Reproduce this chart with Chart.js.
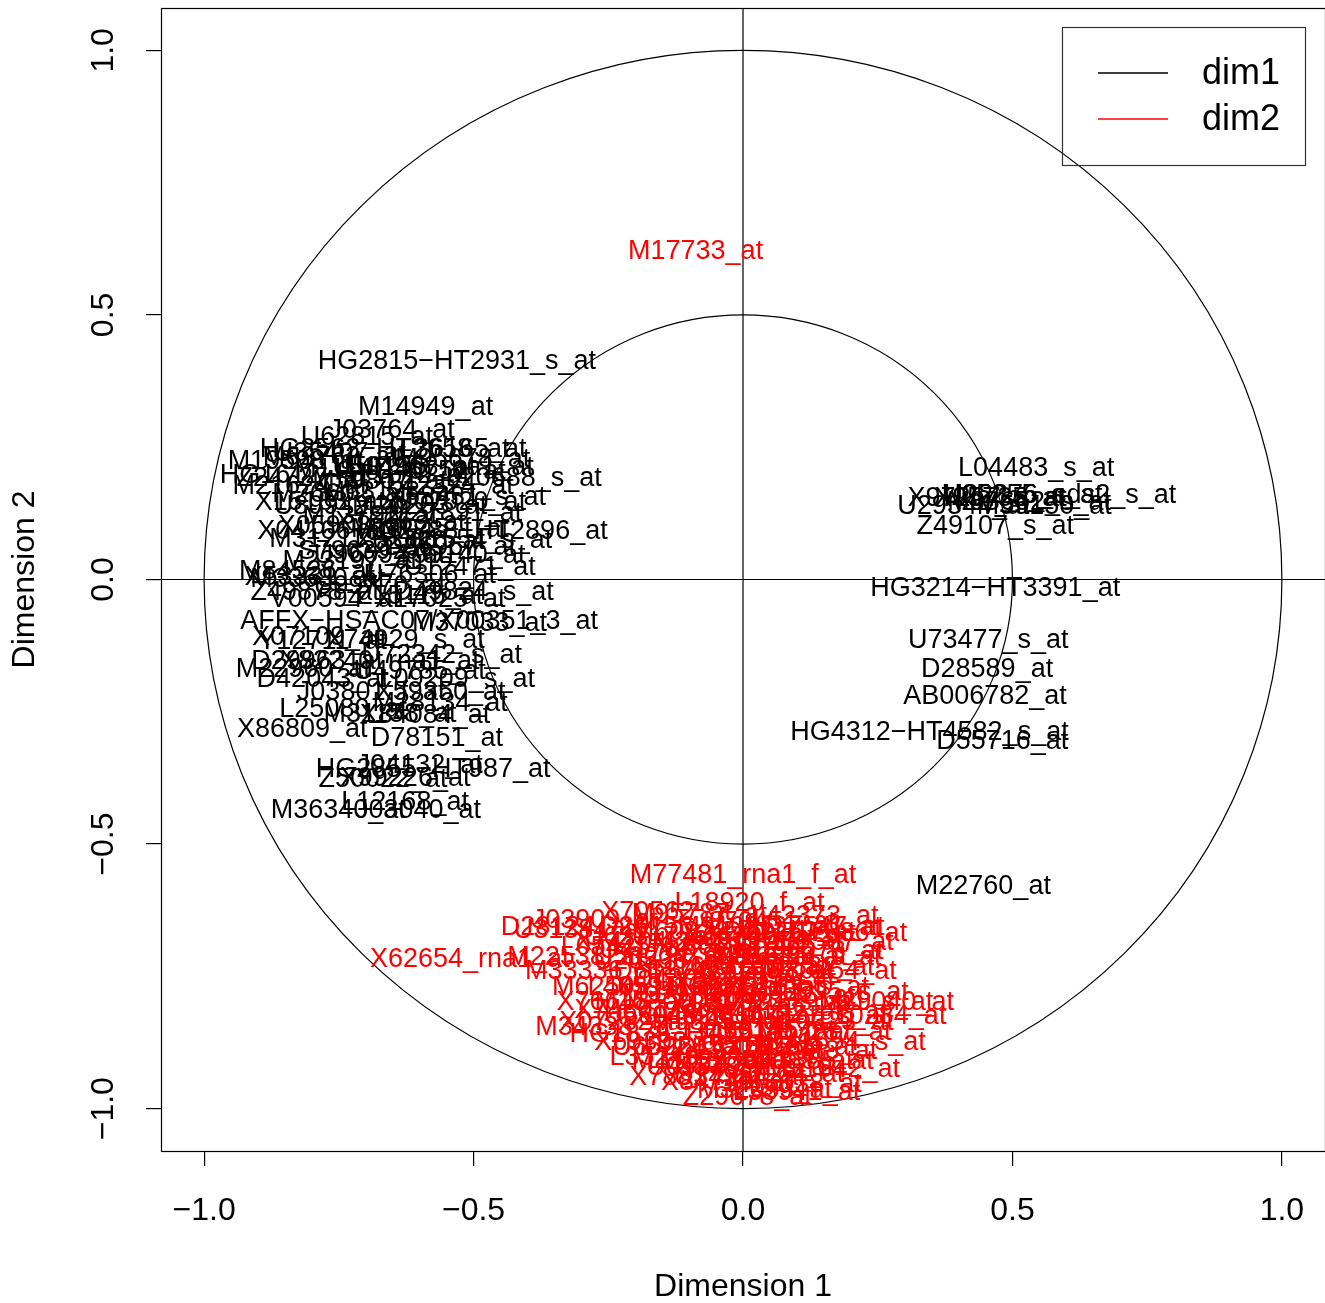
<!DOCTYPE html>
<html>
<head>
<meta charset="utf-8">
<script src="https://cdn.jsdelivr.net/npm/chart.js@4.4.1/dist/chart.umd.min.js"></script>
<style>
  body { margin: 0; background: #fff; }
</style>
</head>
<body>
<canvas id="chart" width="1325" height="1303"></canvas>
<script>
// variables correlated with dimension 1 (black)
const dim1Genes = [
  'HG2815\u2212HT2931_s_at', 'M14949_at', 'J03764_at', 'U62815_at', 'HG2562\u2212HT2658_at', 'L36165_at',
  'M19508_at', 'M95678_at', 'U35407_at', 'HG1612\u2212HT1612_at', 'Z24727_at', 'L20688_s_at',
  'M26602_at', 'X58431_s_at', 'U89942_at', 'M27891_at', 'M20203_at', 'X04106_at', 'X05908_at',
  'M31211_s_at', 'HG2788\u2212HT2896_at', 'U81554_s_at', 'S79639_at', 'U96094_at', 'X99140_at',
  'X53331_at', 'M33680_at', 'U76306_at', 'Z49878_at', 'V00594_at', 'D49824_s_at', 'X17025_at',
  'AFFX\u2212HSAC07/X00351_3_at', 'M37033_at', 'X07109_at', 'Y12711_at', 'X74929_s_at', 'U72342_s_at',
  'D29963_at', 'M22960_at', 'X82240_rna1_at', 'D42043_at', 'L09209_s_at', 'U49785_at', 'J03801_f_at',
  'X59350_at', 'M28134_at', 'L25080_at', 'X84084_at', 'M31158_at', 'X86809_at', 'D78151_at',
  'J04132_at', 'HG2855\u2212HT987_at', 'Z50022_at', 'X99226_at', 'L12168_at', 'M36340_at', 'J03040_at',
  'U14968_at', 'M59807_at', 'L42324_at', 'X16663_at', 'M19045_f_at', 'D86967_at', 'U09770_at',
  'M62762_at', 'U46751_at', 'M11147_at', 'M21624_at', 'U50136_rna1_at', 'X15183_at', 'M63138_at',
  'U02020_at', 'M13792_at', 'M23197_at', 'X62320_at', 'M84526_at', 'Z15115_at', 'U12471_at',
  'L04483_s_at', 'U22376_cds2_s_at', 'U05255_s_at', 'X97267_s_at', 'U29344_at', 'M55150_at',
  'X95735_at', 'M83652_s_at', 'Z49107_s_at', 'HG3214\u2212HT3391_at', 'U73477_s_at', 'D28589_at',
  'AB006782_at', 'HG4312\u2212HT4582_s_at', 'D55716_at', 'M22760_at'
];
const dim1X = [
  -0.531, -0.589, -0.652, -0.698, -0.665, -0.520,
  -0.831, -0.520, -0.748, -0.739, -0.820, -0.407,
  -0.748, -0.513, -0.748, -0.535, -0.600, -0.780, -0.742,
  -0.729, -0.483, -0.503, -0.705, -0.674, -0.525,
  -0.804, -0.789, -0.581, -0.794, -0.757, -0.500, -0.562,
  -0.601, -0.489, -0.790, -0.780, -0.627, -0.559,
  -0.790, -0.816, -0.674, -0.780, -0.531, -0.600, -0.690,
  -0.562, -0.562, -0.742, -0.590, -0.655, -0.818, -0.568,
  -0.600, -0.575, -0.668, -0.627, -0.627, -0.751, -0.603,
  -0.618, -0.674, -0.544, -0.636, -0.581, -0.544, -0.674,
  -0.766, -0.563, -0.711, -0.822, -0.575, -0.785, -0.655,
  -0.525, -0.692, -0.729, -0.600, -0.810, -0.600, -0.507,
  0.544, 0.588, 0.518, 0.453, 0.409, 0.559,
  0.476, 0.531, 0.468, 0.468, 0.455, 0.453,
  0.449, 0.346, 0.481, 0.446
];
const dim1Y = [
  0.416, 0.329, 0.287, 0.274, 0.251, 0.251,
  0.227, 0.231, 0.242, 0.202, 0.195, 0.195,
  0.166, 0.159, 0.142, 0.129, 0.142, 0.095, 0.104,
  0.081, 0.095, 0.079, 0.057, 0.051, 0.051,
  0.009, 0.004, 0.013, -0.019, -0.034, -0.019, -0.034,
  -0.074, -0.079, -0.104, -0.113, -0.110, -0.138,
  -0.151, -0.166, -0.151, -0.185, -0.185, -0.170, -0.208,
  -0.208, -0.229, -0.240, -0.253, -0.250, -0.278, -0.295,
  -0.346, -0.355, -0.374, -0.372, -0.416, -0.431, -0.431,
  0.217, 0.189, 0.180, 0.113, 0.100, 0.066, -0.009,
  0.236, 0.208, 0.212, 0.180, 0.217, 0.151, 0.170,
  0.151, 0.123, 0.038, 0.076, 0.019, -0.028, 0.028,
  0.214, 0.164, 0.164, 0.157, 0.142, 0.142,
  0.157, 0.151, 0.104, -0.013, -0.110, -0.166,
  -0.216, -0.284, -0.302, -0.575
];

// variables correlated with dimension 2 (red)
const dim2Genes = [
  'M17733_at', 'M77481_rna1_f_at', 'L18920_f_at', 'X70562_at', 'M95787_at', 'J03909_at', 'U31384_at',
  'D28124_at', 'U17886_at', 'X62654_rna1_at', 'M22538_at', 'M33336_at', 'X59417_at', 'X76648_at',
  'X74801_at', 'M34338_at', 'HG1879\u2212HT1919_at', 'L35249_s_at', 'U05340_at', 'X84740_at', 'Z29678_at',
  'M29040_at', 'L10284_at', 'U41654_s_at', 'X95095_s_at', 'M31642_at', 'U09587_at', 'D38073_at',
  'X52882_at', 'M16038_at', 'L38941_at', 'U10323_at', 'J04988_at', 'X17094_at', 'D13627_at',
  'U62317_at', 'M60828_at', 'X66899_at', 'D21262_at', 'L05425_at', 'U41767_s_at', 'X86691_at',
  'M81635_at', 'U20536_at', 'L11695_at', 'M55151_at', 'D43950_at', 'X58072_at', 'U90546_at',
  'M92934_at', 'X13973_at', 'L41162_at', 'U58048_at', 'M58459_at', 'D90145_at', 'X69398_at',
  'U26455_at', 'L24774_at', 'M31524_at', 'X57351_s_at', 'U34994_at', 'Z23064_at', 'M62505_at',
  'X07282_at', 'L42373_at', 'U70451_at',
  'D26156_s_at', 'M91036_rna1_at', 'U37547_at', 'X74104_at', 'M29474_at', 'L19779_at',
  'U53204_at', 'X90858_at', 'M16336_s_at', 'D63874_at', 'Z11697_at', 'M80254_at',
  'U16261_at', 'X62153_s_at', 'L40391_at', 'M15800_at', 'D10922_s_at', 'U48705_rna1_s_at',
  'X04526_at', 'M63167_at', 'U03877_s_at', 'L13463_at', 'X51757_at', 'M97287_at',
  'U65928_at', 'D14710_at', 'X69550_at', 'M13755_at', 'L33930_s_at', 'U43885_at',
  'X78817_at', 'M32053_at'
];
const dim2X = [
  -0.088, 0.000, 0.012, -0.142, -0.081, -0.275, -0.303,
  -0.327, 0.182, -0.507, -0.312, -0.279, -0.118, -0.225,
  -0.192, -0.260, -0.090, -0.103, -0.057, -0.031, 0.008,
  0.266, 0.259, 0.190, 0.160, 0.166, 0.157, 0.138,
  0.123, 0.095, 0.099, 0.157, 0.132, 0.049, 0.025,
  -0.173, -0.081, 0.012, 0.086, -0.220, -0.118, -0.025,
  0.068, -0.155, -0.062, 0.031, -0.081, -0.006, 0.086,
  -0.099, -0.016, 0.068, -0.136, -0.044, 0.049, -0.155,
  -0.062, 0.031, -0.081, 0.021, -0.006, 0.068, -0.229,
  -0.220, 0.133, 0.049,
  -0.118, 0.068, 0.140, -0.192, -0.044, 0.068,
  -0.155, 0.012, 0.105, -0.118, 0.049, 0.160,
  -0.044, 0.086, -0.170, -0.150, 0.049, 0.140,
  -0.081, 0.012, 0.120, -0.030, 0.080, 0.150,
  -0.120, 0.000, 0.090, -0.030, 0.060, 0.120,
  -0.090, 0.040
];
const dim2Y = [
  0.624, -0.554, -0.607, -0.624, -0.628, -0.639, -0.658,
  -0.652, -0.664, -0.713, -0.709, -0.737, -0.766, -0.794,
  -0.809, -0.841, -0.856, -0.898, -0.917, -0.945, -0.974,
  -0.794, -0.822, -0.871, -0.775, -0.922, -0.682, -0.699,
  -0.728, -0.949, -0.964, -0.832, -0.888, -0.747, -0.766,
  -0.671, -0.662, -0.671, -0.662, -0.690, -0.696, -0.690,
  -0.709, -0.718, -0.728, -0.728, -0.752, -0.756, -0.784,
  -0.784, -0.800, -0.813, -0.822, -0.832, -0.847, -0.870,
  -0.879, -0.888, -0.907, -0.917, -0.936, -0.930, -0.766,
  -0.832, -0.633, -0.643,
  -0.652, -0.652, -0.652, -0.681, -0.681, -0.681,
  -0.709, -0.709, -0.709, -0.737, -0.737, -0.737,
  -0.766, -0.766, -0.766, -0.794, -0.794, -0.794,
  -0.822, -0.822, -0.822, -0.851, -0.851, -0.851,
  -0.879, -0.879, -0.879, -0.907, -0.907, -0.907,
  -0.936, -0.960
];

const seriesNames = ['dim1', 'dim2'];
const seriesColors = ['#000000', '#ff0000'];
const tickVals = [-1.0, -0.5, 0.0, 0.5, 1.0];
const tickLabels = ['\u22121.0', '\u22120.5', '0.0', '0.5', '1.0'];
const circleRadii = [1, 0.5];

const FONT = '"Liberation Sans", Arial, Helvetica, sans-serif';

const corPlot = {
  id: 'corPlot',
  beforeDatasetsDraw(chart) {
    const ctx = chart.ctx;
    const a = chart.chartArea;
    const xs = chart.scales.x, ys = chart.scales.y;
    const x0 = xs.getPixelForValue(0), y0 = ys.getPixelForValue(0);
    ctx.save();
    ctx.strokeStyle = '#000';
    ctx.lineWidth = 1.2;
    circleRadii.forEach(r => {
      const rx = xs.getPixelForValue(r) - x0;
      const ry = y0 - ys.getPixelForValue(r);
      ctx.beginPath();
      ctx.ellipse(x0, y0, rx, ry, 0, 0, Math.PI * 2);
      ctx.stroke();
    });
    ctx.beginPath();
    ctx.moveTo(a.left, y0); ctx.lineTo(a.right, y0);
    ctx.moveTo(x0, a.top); ctx.lineTo(x0, a.bottom);
    ctx.stroke();
    ctx.strokeRect(a.left + 0.5, a.top + 0.5, a.right - a.left, a.bottom - a.top);

    // axis tick labels and titles
    ctx.fillStyle = '#000';
    ctx.font = '32px ' + FONT;
    ctx.textAlign = 'center';
    ctx.textBaseline = 'middle';
    tickVals.forEach((v, i) => {
      ctx.fillText(tickLabels[i], xs.getPixelForValue(v), 1211);
      ctx.save();
      ctx.translate(104, ys.getPixelForValue(v));
      ctx.rotate(-Math.PI / 2);
      ctx.fillText(tickLabels[i], 0, 0);
      ctx.restore();
    });
    ctx.fillText('Dimension 1', (a.left + a.right) / 2, 1287);
    ctx.save();
    ctx.translate(25, (a.top + a.bottom) / 2);
    ctx.rotate(-Math.PI / 2);
    ctx.fillText('Dimension 2', 0, 0);
    ctx.restore();
    ctx.restore();
  },
  afterDatasetsDraw(chart) {
    const ctx = chart.ctx;
    ctx.save();
    ctx.font = '27px ' + FONT;
    ctx.textAlign = 'center';
    ctx.textBaseline = 'alphabetic';
    chart.data.datasets.forEach((ds, di) => {
      const meta = chart.getDatasetMeta(di);
      ctx.fillStyle = ds.borderColor;
      meta.data.forEach((pt, i) => {
        ctx.fillText(ds.genes[i], pt.x, pt.y + 10);
      });
    });

    // legend
    ctx.strokeStyle = '#333';
    ctx.lineWidth = 1.2;
    ctx.strokeRect(1062.5, 27.5, 243, 138);
    ctx.font = '36px ' + FONT;
    ctx.textAlign = 'left';
    ctx.textBaseline = 'middle';
    seriesNames.forEach((name, i) => {
      const y = 73 + i * 46;
      ctx.strokeStyle = seriesColors[i];
      ctx.lineWidth = 1.5;
      ctx.beginPath();
      ctx.moveTo(1098, y); ctx.lineTo(1168, y);
      ctx.stroke();
      ctx.fillStyle = '#000';
      ctx.fillText(name, 1202, y + 1);
    });
    ctx.restore();
  }
};

const ctx = document.getElementById('chart');
new Chart(ctx, {
  type: 'scatter',
  data: {
    datasets: [
      {
        label: seriesNames[0],
        genes: dim1Genes,
        data: dim1X.map((x, i) => ({ x: x, y: dim1Y[i] })),
        borderColor: seriesColors[0],
        pointRadius: 0
      },
      {
        label: seriesNames[1],
        genes: dim2Genes,
        data: dim2X.map((x, i) => ({ x: x, y: dim2Y[i] })),
        borderColor: seriesColors[1],
        pointRadius: 0
      }
    ]
  },
  options: {
    responsive: false,
    animation: false,
    layout: { padding: { top: 8, right: 0, left: 0, bottom: 0 } },
    plugins: { legend: { display: false }, tooltip: { enabled: false } },
    scales: {
      x: {
        min: -1.08, max: 1.08,
        afterBuildTicks: s => { s.ticks = tickVals.map(v => ({ value: v })); },
        afterFit: s => { s.height = 152; },
        ticks: { display: false },
        border: { display: false },
        grid: { drawOnChartArea: false, drawTicks: true, tickLength: 15, color: '#000', lineWidth: 1.2 }
      },
      y: {
        min: -1.08, max: 1.08,
        afterBuildTicks: s => { s.ticks = tickVals.map(v => ({ value: v })); },
        afterFit: s => { s.width = 161; },
        ticks: { display: false },
        border: { display: false },
        grid: { drawOnChartArea: false, drawTicks: true, tickLength: 15, color: '#000', lineWidth: 1.2 }
      }
    }
  },
  plugins: [corPlot]
});
</script>
</body>
</html>
